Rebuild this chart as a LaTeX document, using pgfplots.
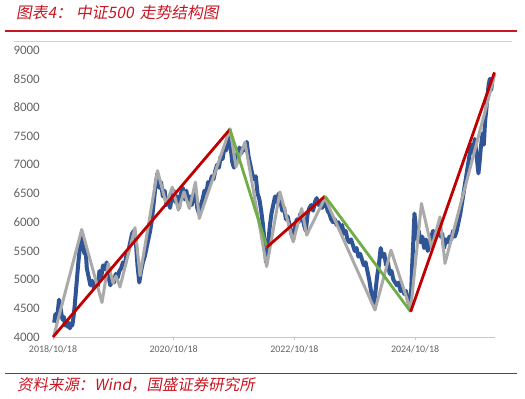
\documentclass[border=0pt]{standalone}
\usepackage{pgfplots}
\pgfplotsset{compat=1.18}
\usepackage{fontspec}
\setmainfont{Carlito}
\newfontfamily\cjk[FakeSlant=0.18]{Noto Sans CJK SC}
\definecolor{cblue}{RGB}{47,85,151}
\definecolor{cgray}{RGB}{170,170,170}
\definecolor{cred}{RGB}{192,0,0}
\definecolor{cgreen}{RGB}{112,173,71}
\definecolor{hred}{RGB}{200,22,35}
\definecolor{tickgray}{RGB}{100,100,100}
\pgfplotstableread{
x y
2018.82 4250
2018.84 4400
2018.86 4300
2018.88 4450
2018.90 4650
2018.92 4550
2018.94 4400
2018.96 4300
2018.98 4350
2019.00 4200
2019.02 4280
2019.04 4180
2019.06 4250
2019.08 4150
2019.10 4230
2019.12 4200
2019.14 4350
2019.16 4550
2019.18 4800
2019.20 5050
2019.22 5300
2019.24 5500
2019.26 5650
2019.28 5800
2019.30 5600
2019.32 5450
2019.34 5550
2019.36 5200
2019.39 5050
2019.42 4900
2019.45 4980
2019.48 4850
2019.51 4950
2019.54 4880
2019.57 5150
2019.60 5050
2019.63 5250
2019.66 5180
2019.69 5300
2019.72 5050
2019.75 4900
2019.78 5000
2019.81 4950
2019.84 5100
2019.87 5030
2019.90 5150
2019.93 5200
2019.96 5300
2019.99 5250
2020.02 5450
2020.05 5500
2020.08 5650
2020.11 5800
2020.14 5850
2020.17 5700
2020.20 5250
2020.23 4950
2020.26 5150
2020.29 5300
2020.32 5400
2020.35 5550
2020.38 5700
2020.41 5850
2020.44 6050
2020.47 6350
2020.50 6650
2020.53 6850
2020.56 6600
2020.59 6700
2020.62 6450
2020.65 6550
2020.68 6300
2020.71 6400
2020.74 6250
2020.77 6450
2020.80 6550
2020.83 6350
2020.86 6450
2020.89 6250
2020.92 6500
2020.95 6600
2020.98 6400
2021.01 6550
2021.04 6350
2021.07 6450
2021.10 6300
2021.13 6450
2021.16 6550
2021.19 6250
2021.22 6150
2021.25 6300
2021.28 6400
2021.31 6550
2021.34 6500
2021.37 6700
2021.40 6650
2021.43 6800
2021.46 6750
2021.49 6900
2021.52 7000
2021.55 6950
2021.58 7150
2021.61 7100
2021.64 7300
2021.67 7250
2021.70 7450
2021.72 7500
2021.74 7350
2021.77 7050
2021.80 6950
2021.83 7150
2021.86 7200
2021.89 7300
2021.92 7200
2021.95 7300
2021.98 7250
2022.01 7400
2022.04 7150
2022.07 7000
2022.10 6850
2022.13 6750
2022.16 6800
2022.19 6500
2022.22 6400
2022.25 6200
2022.28 5950
2022.31 5600
2022.33 5300
2022.36 5550
2022.39 5900
2022.42 6150
2022.45 6300
2022.48 6450
2022.51 6350
2022.54 6500
2022.57 6350
2022.60 6200
2022.63 6250
2022.66 6050
2022.69 6100
2022.72 5950
2022.75 5800
2022.78 5700
2022.81 5900
2022.84 6050
2022.87 6000
2022.90 6150
2022.93 6100
2022.96 5950
2022.99 5850
2023.02 6150
2023.05 6250
2023.08 6300
2023.11 6200
2023.14 6350
2023.17 6420
2023.20 6300
2023.23 6350
2023.26 6250
2023.29 6300
2023.32 6350
2023.35 6200
2023.38 6150
2023.41 6050
2023.44 6000
2023.47 6050
2023.50 5950
2023.53 6000
2023.56 5900
2023.59 5950
2023.62 5800
2023.65 5850
2023.68 5700
2023.71 5650
2023.74 5700
2023.77 5600
2023.80 5500
2023.83 5550
2023.86 5400
2023.89 5450
2023.92 5350
2023.95 5250
2023.98 5300
2024.01 5150
2024.04 5000
2024.07 4800
2024.10 4700
2024.12 4580
2024.14 4750
2024.17 5050
2024.20 5250
2024.23 5550
2024.26 5400
2024.29 5450
2024.32 5250
2024.35 5300
2024.38 5100
2024.41 5150
2024.44 5000
2024.47 4950
2024.50 4900
2024.53 4950
2024.56 4800
2024.59 4850
2024.62 4750
2024.65 4800
2024.68 4650
2024.71 4550
2024.73 4650
2024.75 5200
2024.77 5650
2024.79 6150
2024.81 5950
2024.83 5700
2024.86 5850
2024.89 5650
2024.92 5750
2024.95 5550
2024.98 5700
2025.01 5500
2025.04 5600
2025.07 5750
2025.10 5850
2025.13 5700
2025.16 5800
2025.19 5900
2025.22 5750
2025.25 5800
2025.28 5550
2025.31 5700
2025.34 5650
2025.37 5750
2025.40 5700
2025.43 5850
2025.46 5750
2025.49 5850
2025.52 6000
2025.55 6150
2025.58 6350
2025.61 6550
2025.64 6750
2025.67 6950
2025.70 7150
2025.73 7350
2025.76 7200
2025.79 7450
2025.82 7150
2025.85 6850
2025.87 7050
2025.89 7300
2025.92 7550
2025.94 7350
2025.96 7750
2025.98 7950
2026.00 8200
2026.02 8400
2026.04 8500
2026.06 8300
2026.08 8450
}\csi
\pgfplotstableread{
x y
2018.817 4035
2019.276 5874
2019.612 4600
2019.716 5282
2019.794 4940
2019.844 5061
2019.910 4870
2020.159 5905
2020.242 5070
2020.532 6897
2020.677 6314
2020.777 6610
2020.877 6210
2020.971 6528
2021.059 6240
2021.161 6697
2021.224 6065
2021.733 7628
2021.832 6963
2021.981 7393
2022.341 5227
2022.561 6528
2022.782 5658
2022.921 6239
2023.004 5775
2023.307 6424
2024.136 4470
2024.401 5514
2024.727 4470
2024.906 6326
2025.075 5549
2025.213 6093
2025.296 5282
2026.124 8588
}\zigzag
\begin{document}
\begin{tikzpicture}[x=1bp,y=1bp]
\useasboundingbox (0,0) rectangle (525,398);
\node[anchor=west, inner sep=0, text=hred, font=\cjk\fontsize{15.8}{18}\selectfont] at (16,385) {图表4：\hspace{4bp}中证500\hspace{6bp}走势结构图};
\draw[hred, line width=1.8bp] (5,367.3) -- (517,367.3);
\draw[black!18, line width=0.7bp] (14,357) -- (512,357);
\begin{axis}[
  at={(53bp,61bp)}, anchor=south west, scale only axis,
  width=442bp, height=287bp,
  xmin=2018.8, xmax=2026.125, ymin=4000, ymax=9000,
  clip=false,
  axis x line*=bottom, axis y line*=left,
  x axis line style={-, draw=black!22, line width=0.8bp},
  y axis line style={draw=none},
  ytick style={draw=none},
  xtick style={draw=black!22, line width=0.8bp},
  tick align=outside, major tick length=3bp,
  xtick={2018.8,2020.8,2022.8,2024.8},
  xticklabels={2018/10/18,2020/10/18,2022/10/18,2024/10/18},
  xticklabel style={font=\fontsize{10}{12}\selectfont, text=tickgray, inner sep=0pt, yshift=-5bp},
  ytick={4000,4500,...,9000},
  yticklabel style={font=\fontsize{13}{15}\selectfont, text=tickgray, inner sep=0pt, anchor=east, xshift=-10bp},
  /pgf/number format/assume math mode=true,
  /pgf/number format/1000 sep={},
  scaled y ticks=false,
]
\addplot[cblue, line width=4bp, line join=round] table {\csi};
\addplot[cgray, line width=3bp, line join=round] table {\zigzag};
\addplot[cred, line width=2.8bp] coordinates {(2018.8,4000) (2021.733,7619)};
\addplot[cgreen, line width=2.8bp] coordinates {(2021.733,7619) (2022.346,5566)};
\addplot[cred, line width=2.8bp] coordinates {(2022.346,5566) (2023.307,6453)};
\addplot[cgreen, line width=2.8bp] coordinates {(2023.307,6453) (2024.727,4440)};
\addplot[cred, line width=2.8bp] coordinates {(2024.727,4440) (2026.116,8611)};
\end{axis}
\draw[hred, line width=1.5bp] (5,24.7) -- (517,24.7);
\node[anchor=west, inner sep=0, text=hred, font=\cjk\fontsize{15.5}{18}\selectfont] at (17,13) {资料来源：Wind，国盛证券研究所};
\end{tikzpicture}
\end{document}
